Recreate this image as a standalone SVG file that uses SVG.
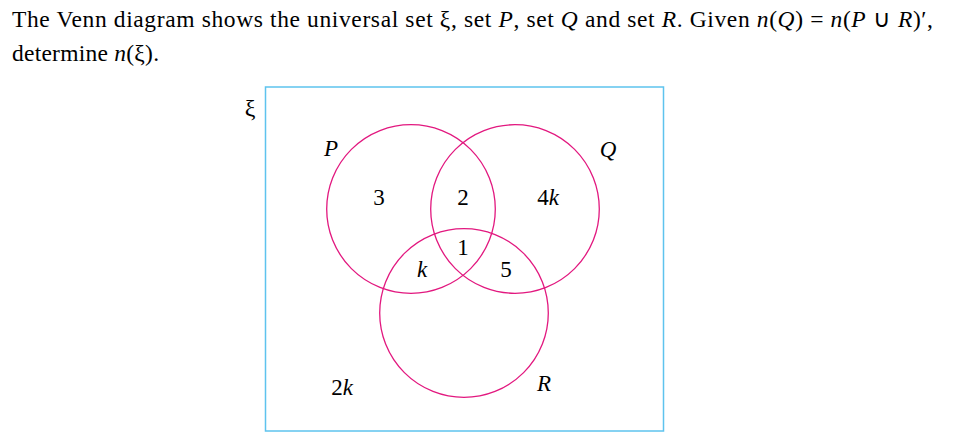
<svg xmlns="http://www.w3.org/2000/svg" width="961" height="434" viewBox="0 0 961 434">
<style>
.t{font-family:"Liberation Serif","Times New Roman",serif;font-size:23.5px;fill:#000}
.i{font-style:italic}
.set{fill:none;stroke:#e2187f;stroke-width:1.3}
.lab{font-family:"Liberation Serif","Times New Roman",serif;font-size:23px;fill:#000;text-anchor:middle}
</style>
<rect width="961" height="434" fill="#fff"/>
<g id="question">
<text class="t" x="12" y="27" textLength="921" lengthAdjust="spacing">The Venn diagram shows the universal set ξ, set <tspan class="i">P</tspan>, set <tspan class="i">Q</tspan> and set <tspan class="i">R</tspan>. Given <tspan class="i">n</tspan>(<tspan class="i">Q</tspan>) = <tspan class="i">n</tspan>(<tspan class="i">P</tspan> ∪ <tspan class="i">R</tspan>)′,</text>
<text class="t" x="12" y="61" textLength="147" lengthAdjust="spacing">determine <tspan class="i">n</tspan>(ξ).</text>
</g>
<g id="universal">
<rect x="265.5" y="87" width="398" height="344" fill="none" stroke="#5ec3ee" stroke-width="1.5"/>
<text class="lab" x="250" y="116" style="font-size:24px">ξ</text>
</g>
<g id="setP">
<circle class="set" cx="411" cy="209" r="84.3"/>
<text class="lab i" x="331" y="156">P</text>
</g>
<g id="setQ">
<circle class="set" cx="515" cy="209" r="84.3"/>
<text class="lab i" x="608" y="157">Q</text>
</g>
<g id="setR">
<circle class="set" cx="464" cy="313" r="84.3"/>
<text class="lab i" x="544" y="391">R</text>
</g>
<g id="regions">
<text class="lab" x="379" y="205">3</text>
<text class="lab" x="463" y="205">2</text>
<text class="lab" x="548" y="205">4<tspan class="i">k</tspan></text>
<text class="lab" x="463" y="255">1</text>
<text class="lab i" x="422" y="277">k</text>
<text class="lab" x="506" y="277">5</text>
<text class="lab" x="342" y="395">2<tspan class="i">k</tspan></text>
</g>
<g id="connectors"/>
</svg>
